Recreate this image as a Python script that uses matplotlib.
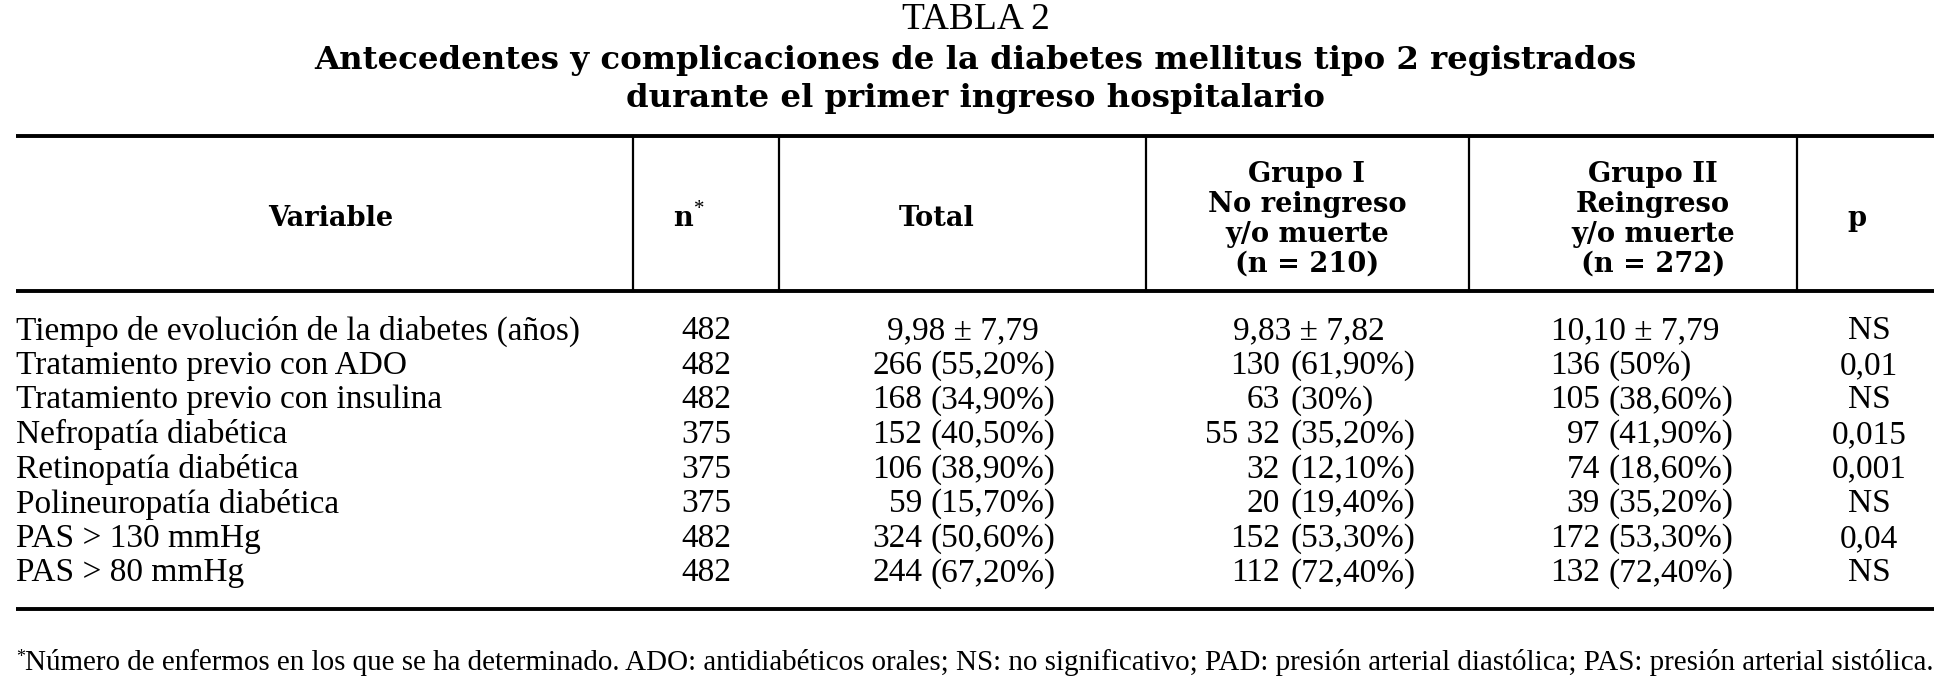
import matplotlib
matplotlib.use("Agg")
import matplotlib.pyplot as plt

# ---------------- data ----------------
table_label = "TABLA 2"
title_lines = ["Antecedentes y complicaciones de la diabetes mellitus tipo 2 registrados",
               "durante el primer ingreso hospitalario"]

header_variable = "Variable"
header_n = "n"
header_total = "Total"
header_g1 = ["Grupo I", "No reingreso", "y/o muerte", "(n = 210)"]
header_g2 = ["Grupo II", "Reingreso", "y/o muerte", "(n = 272)"]
header_p = "p"

variables = ["Tiempo de evolución de la diabetes (años)",
             "Tratamiento previo con ADO",
             "Tratamiento previo con insulina",
             "Nefropatía diabética",
             "Retinopatía diabética",
             "Polineuropatía diabética",
             "PAS > 130 mmHg",
             "PAS > 80 mmHg"]
n_values = ["482", "482", "482", "375", "375", "375", "482", "482"]
total_values = ["9,98 ± 7,79", "266 (55,20%)", "168 (34,90%)", "152 (40,50%)",
                "106 (38,90%)", "59 (15,70%)", "324 (50,60%)", "244 (67,20%)"]
grupo1_values = ["9,83 ± 7,82", "130 (61,90%)", "63 (30%)", "55 32 (35,20%)",
                 "32 (12,10%)", "20 (19,40%)", "152 (53,30%)", "112 (72,40%)"]
grupo2_values = ["10,10 ± 7,79", "136 (50%)", "105 (38,60%)", "97 (41,90%)",
                 "74 (18,60%)", "39 (35,20%)", "172 (53,30%)", "132 (72,40%)"]
p_values = ["NS", "0,01", "NS", "0,015", "0,001", "NS", "0,04", "NS"]

footnote = ("Número de enfermos en los que se ha determinado. ADO: antidiabéticos orales; "
            "NS: no significativo; PAD: presión arterial diastólica; PAS: presión arterial sistólica.")

# ---------------- layout ----------------
SERIF = ["Liberation Serif", "DejaVu Serif"]
BOLD = ["DejaVu Serif", "Liberation Serif"]
W, H = 1941, 700
fig = plt.figure(figsize=(W / 100, H / 100), dpi=100)
ax = fig.add_axes([0, 0, 1, 1])
ax.set_xlim(0, W)
ax.set_ylim(H, 0)
ax.axis("off")

body_fs = 24
head_fs = 19.6
title_fs = 23.3
foot_fs = 20.9

x_left, x_right = 16, 1934
y_top_rule, y_head_rule, y_bottom_rule = 136, 291, 609
vlines_x = [633, 779, 1146, 1469, 1797]

# title
ax.text(W / 2 + 5, 20, table_label, ha="center", va="center", fontsize=27,
        family=SERIF)
ax.text(W / 2 + 5, 60, title_lines[0], ha="center", va="center", fontsize=title_fs,
        fontweight="bold", family=BOLD)
ax.text(W / 2 + 5, 99, title_lines[1], ha="center", va="center", fontsize=title_fs,
        fontweight="bold", family=BOLD)

# rules
for y in (y_top_rule, y_head_rule, y_bottom_rule):
    ax.plot([x_left, x_right], [y, y], color="black", lw=2.8, solid_capstyle="butt")
for x in vlines_x:
    ax.plot([x, x], [y_top_rule, y_head_rule], color="black", lw=1.6)

# header
y_head = 218
ax.text(331, y_head, header_variable, ha="center", va="center", fontsize=head_fs,
        fontweight="bold", family=BOLD)
ax.text(693, y_head, header_n, ha="right", va="center", fontsize=head_fs,
        fontweight="bold", family=BOLD)
ax.text(694, y_head - 8, "*", ha="left", va="center", fontsize=15, family=SERIF)
ax.text(937, y_head, header_total, ha="center", va="center", fontsize=head_fs,
        fontweight="bold", family=BOLD)
ax.text(1857, y_head, header_p, ha="center", va="center", fontsize=head_fs,
        fontweight="bold", family=BOLD)
head_line_y = [174, 204, 234, 264]
for lines, xc in ((header_g1, 1307), (header_g2, 1653)):
    for s, y in zip(lines, head_line_y):
        ax.text(xc, y, s, ha="center", va="center", fontsize=head_fs,
                fontweight="bold", family=BOLD)

# body
row_y0, row_dy = 331, 34.6
# (center for mean±sd, right edge of count, left edge of percentage)
col_specs = [(total_values, 963, 922, 931),
             (grupo1_values, 1309, 1280, 1290),
             (grupo2_values, 1635, 1600, 1609)]

for i, var in enumerate(variables):
    y = row_y0 + i * row_dy
    ax.text(x_left, y, var, ha="left", va="center", fontsize=body_fs, family=SERIF)
    ax.text(706, y, n_values[i], ha="center", va="center", fontsize=body_fs, family=SERIF)
    for values, xc, xr, xl in col_specs:
        s = values[i]
        if " (" in s:
            cnt, pct = s.split(" (", 1)
            ax.text(xr, y, cnt, ha="right", va="center", fontsize=body_fs, family=SERIF)
            ax.text(xl, y, "(" + pct, ha="left", va="center", fontsize=body_fs, family=SERIF)
        else:
            ax.text(xc, y, s, ha="center", va="center", fontsize=body_fs, family=SERIF)
    ax.text(1869, y, p_values[i], ha="center", va="center", fontsize=body_fs, family=SERIF)

# footnote
ax.text(x_left, 657, "*", ha="left", va="center", fontsize=13, family=SERIF)
ax.text(x_left + 9, 663, footnote, ha="left", va="center", fontsize=foot_fs, family=SERIF)

fig.savefig("out.png", dpi=100)
